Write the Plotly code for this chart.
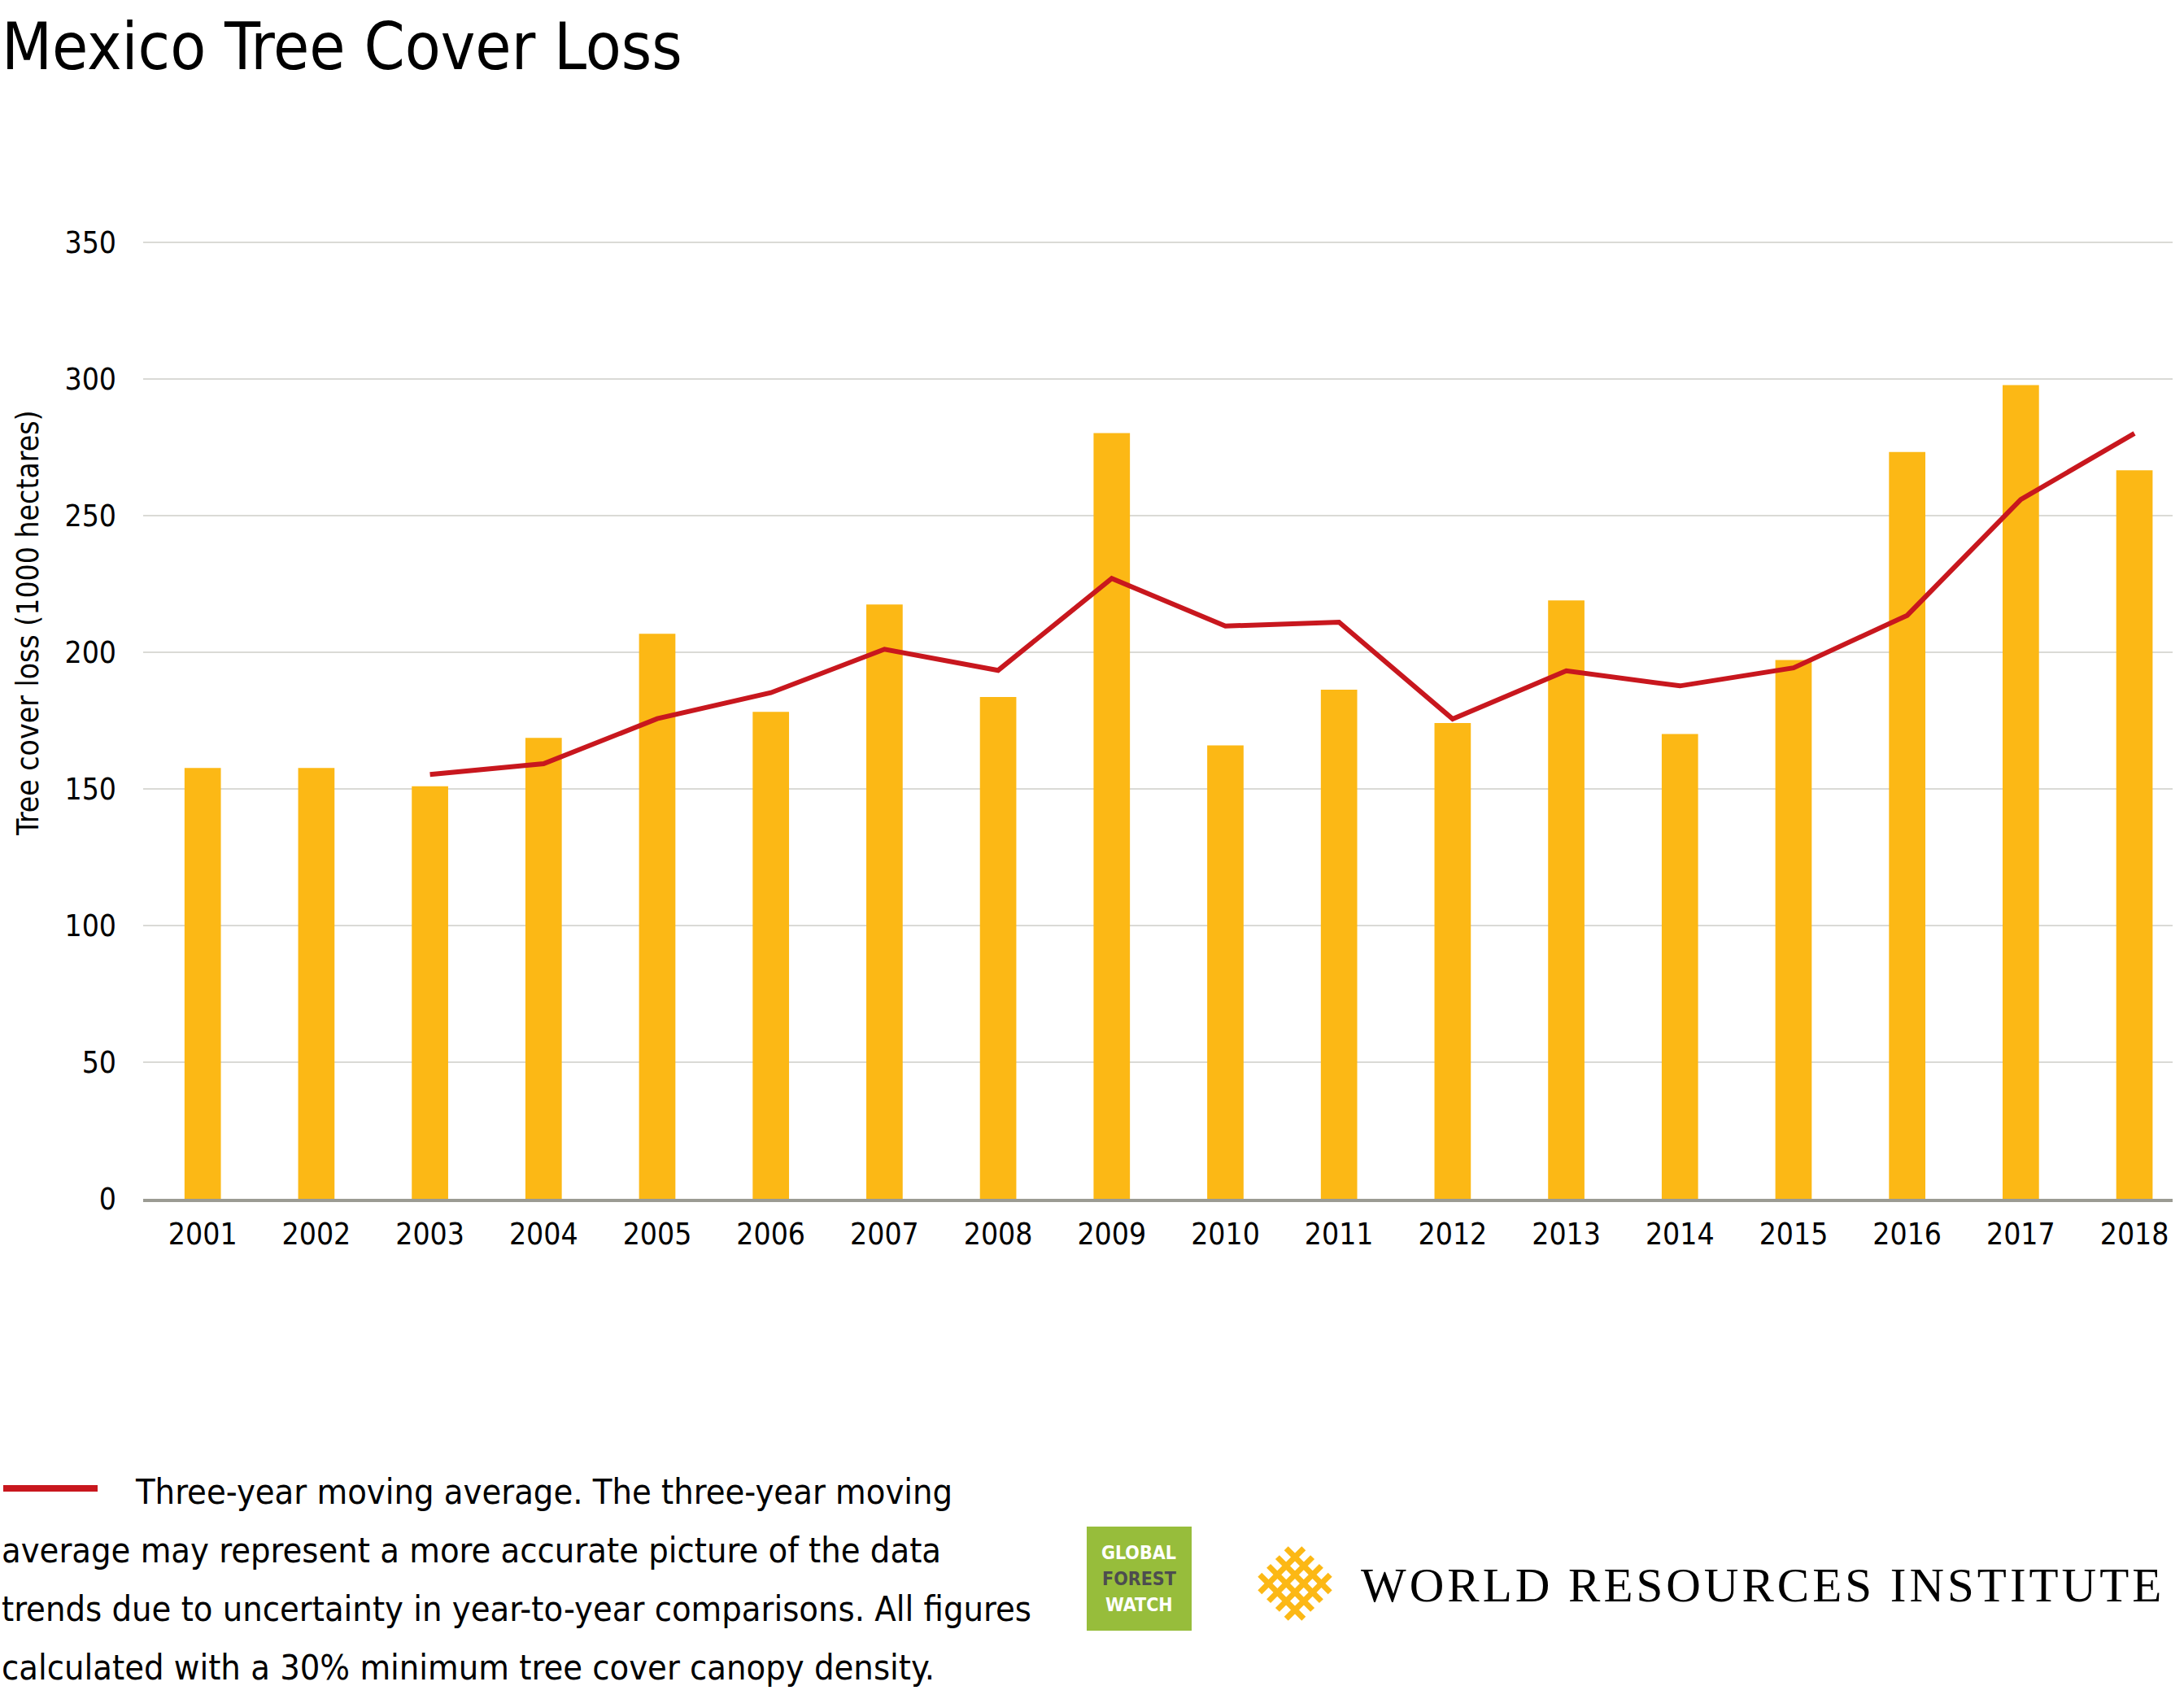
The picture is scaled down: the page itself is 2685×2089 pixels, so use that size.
import plotly.graph_objects as go

# ---- data ----
years = ["2001", "2002", "2003", "2004", "2005", "2006", "2007", "2008", "2009",
         "2010", "2011", "2012", "2013", "2014", "2015", "2016", "2017", "2018"]
tree_cover_loss = [157.7, 157.7, 151.0, 168.7, 206.8, 178.2, 217.5, 183.6, 280.2,
                   165.9, 186.3, 174.1, 219.0, 170.1, 197.2, 273.3, 297.8, 266.6]
avg_years = ["2003", "2004", "2005", "2006", "2007", "2008", "2009", "2010",
             "2011", "2012", "2013", "2014", "2015", "2016", "2017", "2018"]
moving_avg = [155.3, 159.2, 175.7, 185.2, 201.1, 193.4, 227.0, 209.6,
              211.0, 175.6, 193.2, 187.7, 194.3, 213.5, 255.9, 280.1]
y_ticks = [0, 50, 100, 150, 200, 250, 300, 350]

title_text = "Mexico Tree Cover Loss"
y_title = "Tree cover loss (1000 hectares)"
note_lines = [
    "Three-year moving average. The three-year moving",
    "average may represent a more accurate picture of the data",
    "trends due to uncertainty in year-to-year comparisons. All figures",
    "calculated with a 30% minimum tree cover canopy density.",
]

# ---- styling ----
W, H = 2685, 2089
L, R, T, B = 176, 2671, 296, 1474
BAR = "#FCB815"
RED = "#C8171E"
FONT = "DejaVu Sans Condensed, Liberation Sans Narrow, Roboto, sans-serif"


def px(x):
    return (x - L) / (R - L)


def py(y):
    return (B - y) / (B - T)


fig = go.Figure()
fig.add_trace(go.Bar(x=years, y=tree_cover_loss, marker_color=BAR,
                     marker_line_width=0, width=0.32, showlegend=False))
fig.add_trace(go.Scatter(x=avg_years, y=moving_avg, mode="lines",
                         line=dict(color=RED, width=6), showlegend=False))

fig.update_layout(
    width=W, height=H,
    margin=dict(l=L, r=W - R, t=T, b=H - B),
    paper_bgcolor="white", plot_bgcolor="white",
    font=dict(family=FONT, color="black"),
    xaxis=dict(type="category", range=[-0.524, 17.336], showgrid=False,
               showline=True, linecolor="#9B9B93", linewidth=4,
               tickfont=dict(size=37, family=FONT, color="black"),
               ticks="", ticklabelstandoff=8),
    yaxis=dict(range=[0, 350.6], tickvals=y_ticks, showgrid=True,
               gridcolor="#DADAD6", gridwidth=2, zeroline=False,
               tickfont=dict(size=37, family=FONT, color="black"),
               ticks="", ticklabelstandoff=32),
)

shapes = []
annotations = []

# title
annotations.append(dict(text=title_text, x=px(0), y=py(58), xref="paper", yref="paper",
                        xanchor="left", yanchor="middle", showarrow=False,
                        font=dict(size=80, family=FONT, color="black")))
# y-axis title
annotations.append(dict(text=y_title, x=px(34), y=py(766), xref="paper", yref="paper",
                        xanchor="center", yanchor="middle", textangle=-90, showarrow=False,
                        font=dict(size=37, family=FONT, color="black")))

# legend / note
shapes.append(dict(type="line", xref="paper", yref="paper",
                   x0=px(4), x1=px(120), y0=py(1830), y1=py(1830),
                   line=dict(color=RED, width=8)))
note_x = [164, 0, 0, 0]
note_y = [1834, 1906, 1978, 2050]
for t, xx, yy in zip(note_lines, note_x, note_y):
    annotations.append(dict(text=t, x=px(xx), y=py(yy), xref="paper", yref="paper",
                            xanchor="left", yanchor="middle", showarrow=False,
                            font=dict(size=43, family=FONT, color="black")))

# Global Forest Watch logo box
shapes.append(dict(type="rect", xref="paper", yref="paper",
                   x0=px(1336), x1=px(1465), y0=py(2005), y1=py(1877),
                   fillcolor="#97BD3B", line=dict(width=0)))
for t, yy, c in zip(["GLOBAL", "FOREST", "WATCH"], [1909, 1941, 1973],
                    ["white", "#4D4D4F", "white"]):
    annotations.append(dict(text="<b>" + t + "</b>", x=px(1400), y=py(yy),
                            xref="paper", yref="paper", xanchor="center",
                            yanchor="middle", showarrow=False,
                            font=dict(size=23, family=FONT, color=c)))

# WRI woven diamond icon (approximation)
cx, cy, Rd = 1592, 1947, 54
for k in [-0.6, -0.2, 0.2, 0.6]:
    u = k * Rd
    for sgn in (1, -1):
        if sgn == 1:
            x0, y0 = cx + (u - Rd) / 2, cy + (u + Rd) / 2
            x1, y1 = cx + (u + Rd) / 2, cy + (u - Rd) / 2
        else:
            x0, y0 = cx + (-Rd + u) / 2, cy + (-Rd - u) / 2
            x1, y1 = cx + (Rd + u) / 2, cy + (Rd - u) / 2
        shapes.append(dict(type="line", xref="paper", yref="paper",
                           x0=px(x0), y0=py(y0), x1=px(x1), y1=py(y1),
                           line=dict(color=BAR, width=7)))

annotations.append(dict(
    text='<span style="letter-spacing:4px">WORLD RESOURCES INSTITUTE</span>',
    x=px(1671), y=py(1949), xref="paper", yref="paper",
    xanchor="left", yanchor="middle", showarrow=False,
    font=dict(size=59, family="Liberation Serif, DejaVu Serif, serif", color="black")))

fig.update_layout(shapes=shapes, annotations=annotations)
fig.write_html("out.html")
